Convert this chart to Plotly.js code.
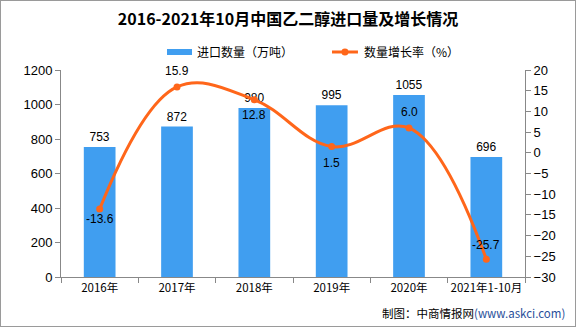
<!DOCTYPE html>
<html><head><meta charset="utf-8">
<script src="https://cdn.plot.ly/plotly-3.0.1.min.js"></script>
<style>
body{margin:0;padding:0;background:#fff;}
#wrap{position:relative;width:576px;height:327px;}
#chart{width:576px;height:327px;}
#frame{position:absolute;left:0;top:0;width:574px;height:325px;border:1px solid #9a9a9a;pointer-events:none;}
</style>
</head><body>
<div id="wrap"><div id="chart"></div><div id="frame"></div></div>
<script>
const categories = ['2016年','2017年','2018年','2019年','2020年','2021年1-10月'];
const importVolume = [753, 872, 980, 995, 1055, 696];
const growthRate = [-13.6, 15.9, 12.8, 1.5, 6.0, -25.7];
const growthLabels = ['-13.6','15.9','12.8','1.5','6.0','-25.7'];
const leftTicks = [0,200,400,600,800,1000,1200];
const rightTicks = [-30,-25,-20,-15,-10,-5,0,5,10,15,20];
const legendNames = ['进口数量（万吨）','数量增长率（%）'];

// label offsets (px) for the growth-rate labels, style only
const growthLabelShift = [-10, 16, -15, -16, 16, 14];

const numFont = {family:'Liberation Sans, Arial, sans-serif', size:12, color:'#000'};
const cjk = 'Noto Sans CJK SC, sans-serif';
const blue = '#409EF0', orange = '#FF661A';

const traces = [
  {
    type:'bar', name:legendNames[0], x:categories, y:importVolume,
    marker:{color:blue},
    text:importVolume.map(String), textposition:'outside', textfont:numFont,
    cliponaxis:false, hoverinfo:'skip', showlegend:false
  },
  {
    type:'scatter', mode:'lines+markers', name:legendNames[1],
    x:categories, y:growthRate, yaxis:'y2',
    line:{color:orange, width:3, shape:'spline', smoothing:1.1},
    marker:{color:orange, size:7},
    cliponaxis:false, hoverinfo:'skip', showlegend:false
  }
];

const lineLabels = categories.map((c,i)=>({
  xref:'x', yref:'y2', x:c, y:growthRate[i], text:growthLabels[i],
  showarrow:false, xanchor:'center', yanchor:'middle', yshift:growthLabelShift[i],
  font:numFont
}));

const layout = {
  width:576, height:327,
  margin:{l:61, r:51, t:70, b:50},
  paper_bgcolor:'#fff', plot_bgcolor:'#fff',
  showlegend:false,
  title:{text:'<b>2016-2021年10月中国乙二醇进口量及增长情况</b>',
         font:{family:cjk, size:16, color:'#000'},
         x:0.5, xanchor:'center', y:0.94, yanchor:'middle', yref:'container'},
  bargap:0.59,
  xaxis:{type:'category', showline:true, linecolor:'#888', linewidth:1,
         ticks:'outside', tickson:'boundaries', ticklen:5, tickcolor:'#888',
         showgrid:false, zeroline:false, tickangle:0,
         tickfont:{family:cjk, size:11.5, color:'#000'}},
  yaxis:{range:[0,1200], tickvals:leftTicks, showline:true, linecolor:'#888',
         ticks:'outside', ticklen:5, tickcolor:'#888', showgrid:false, zeroline:false,
         tickfont:{family:'Liberation Sans, Arial, sans-serif', size:13, color:'#000'}},
  yaxis2:{range:[-30,20], tickvals:rightTicks, ticktext:rightTicks.map(v=>v<0?'\u2212'+Math.abs(v):String(v)),
          overlaying:'y', side:'right', showline:true, linecolor:'#888',
          ticks:'outside', ticklen:5, tickcolor:'#888', showgrid:false, zeroline:false,
          tickfont:{family:'Liberation Sans, Arial, sans-serif', size:13, color:'#000'}},
  shapes:[
    {type:'rect', xref:'paper', yref:'paper', x0:0.2284, x1:0.2823, y0:1.0725, y1:1.1014,
     fillcolor:blue, line:{width:0}},
    {type:'line', xref:'paper', yref:'paper', x0:0.584, x1:0.640, y0:1.087, y1:1.087,
     line:{color:orange, width:3}},
    {type:'circle', xref:'paper', yref:'paper', x0:0.612-0.0075, x1:0.612+0.0075,
     y0:1.087-0.0169, y1:1.087+0.0169, fillcolor:orange, line:{width:0}}
  ],
  annotations:[
    ...lineLabels,
    {xref:'paper', yref:'paper', x:0.2888, y:1.087, xanchor:'left', yanchor:'middle',
     showarrow:false, text:legendNames[0], font:{family:cjk, size:12, color:'#000'}},
    {xref:'paper', yref:'paper', x:0.6487, y:1.087, xanchor:'left', yanchor:'middle',
     showarrow:false, text:legendNames[1], font:{family:cjk, size:12, color:'#000'}},
    {xref:'paper', yref:'paper', x:1.09, y:-0.174, xanchor:'right', yanchor:'middle',
     showarrow:false,
     text:'制图：中商情报网<span style="color:#2a4f9a">(www.askci.com)</span>',
     font:{family:cjk, size:11.5, color:'#000'}}
  ]
};

Plotly.newPlot('chart', traces, layout, {staticPlot:true, displayModeBar:false});
</script>
</body></html>
